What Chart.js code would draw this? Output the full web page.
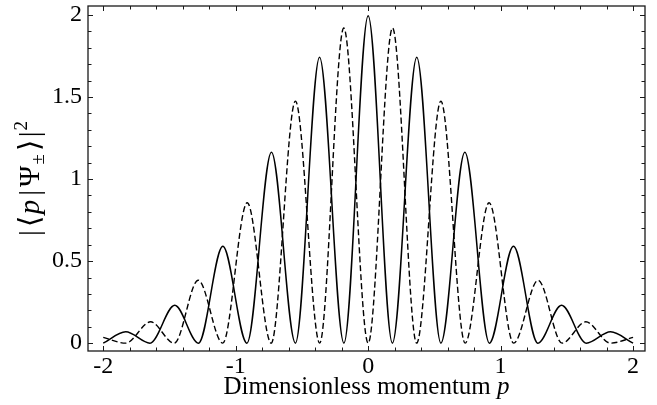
<!DOCTYPE html>
<html>
<head>
<meta charset="utf-8">
<script src="https://cdn.jsdelivr.net/npm/chart.js@4.4.0/dist/chart.umd.min.js"></script>
<style>
html, body { margin: 0; padding: 0; background: #fff; }
#wrap { width: 657px; height: 405px; }
</style>
</head>
<body>
<div id="wrap"><canvas id="c" width="657" height="405"></canvas></div>
<script>
// maxima and zeros (p, value)
const solidP = [-2.0, -1.83, -1.647, -1.46, -1.281, -1.097, -0.915, -0.73, -0.549, -0.367, -0.183, 0,
                0.183, 0.367, 0.549, 0.73, 0.915, 1.097, 1.281, 1.46, 1.647, 1.83, 2.0];
const solidV = [0, 0.069, 0, 0.231, 0, 0.59, 0, 1.164, 0, 1.743, 0, 1.996,
                0, 1.743, 0, 1.164, 0, 0.59, 0, 0.231, 0, 0.069, 0];
const dashedP = [-2.0, -1.83, -1.643, -1.464, -1.283, -1.098, -0.913, -0.732, -0.549, -0.366, -0.184, 0,
                 0.184, 0.366, 0.549, 0.732, 0.913, 1.098, 1.283, 1.464, 1.643, 1.83, 2.0];
const dashedV = [0.035, 0, 0.13, 0, 0.383, 0, 0.856, 0, 1.475, 0, 1.921, 0,
                 1.921, 0, 1.475, 0, 0.856, 0, 0.383, 0, 0.13, 0, 0.035];
const xTickLabels = [-2, -1, 0, 1, 2];
const yTickLabels = [0, 0.5, 1, 1.5, 2];

const SERIF = "'Liberation Serif', 'Times New Roman', serif";

const isLabel = (list, v) => list.some(t => Math.abs(t - v) < 1e-6);

// draw a row of text pieces (mixed fonts) centred on x=0 at baseline y=0
function drawRuns(ctx, runs) {
    let total = 0;
    runs.forEach(r => { ctx.font = r.font; r.w = ctx.measureText(r.t).width; total += r.w + (r.gap || 0); });
    let x = -total / 2;
    ctx.textAlign = 'left';
    ctx.textBaseline = 'alphabetic';
    runs.forEach(r => {
        ctx.font = r.font;
        ctx.fillText(r.t, x, r.dy || 0);
        x += r.w + (r.gap || 0);
    });
}

const framePlugin = {
    id: 'frame',
    afterDraw(chart) {
        const { ctx, chartArea: a, scales: { x, y } } = chart;
        ctx.save();
        ctx.strokeStyle = '#1a1a1a';
        ctx.lineWidth = 1;
        ctx.beginPath();
        x.ticks.forEach(t => {
            const px = Math.round(x.getPixelForValue(t.value)) + 0.5;
            const len = isLabel(xTickLabels, t.value) ? 5 : 3.5;
            ctx.moveTo(px, a.bottom); ctx.lineTo(px, a.bottom - len);
            ctx.moveTo(px, a.top); ctx.lineTo(px, a.top + len);
        });
        y.ticks.forEach(t => {
            const py = Math.round(y.getPixelForValue(t.value)) + 0.5;
            const len = isLabel(yTickLabels, t.value) ? 5 : 3.5;
            ctx.moveTo(a.left, py); ctx.lineTo(a.left + len, py);
            ctx.moveTo(a.right, py); ctx.lineTo(a.right - len, py);
        });
        ctx.stroke();
        ctx.lineWidth = 1.3;
        ctx.strokeRect(a.left, a.top, a.right - a.left, a.bottom - a.top);

        ctx.fillStyle = '#000';
        // x title
        ctx.save();
        ctx.translate((a.left + a.right) / 2, 394);
        drawRuns(ctx, [
            { t: 'Dimensionless momentum ', font: '25px ' + SERIF },
            { t: 'p', font: 'italic 25px ' + SERIF }
        ]);
        ctx.restore();
        // y title
        ctx.save();
        ctx.translate(39, (a.top + a.bottom) / 2);
        ctx.rotate(-Math.PI / 2);
        drawRuns(ctx, [
            { t: '|', font: '29px ' + SERIF, gap: 3 },
            { t: '\u27E8', font: '29px ' + SERIF, gap: 2 },
            { t: 'p', font: 'italic 29px ' + SERIF, gap: 4 },
            { t: '|', font: '29px ' + SERIF, gap: 3 },
            { t: '\u03A8', font: '29px ' + SERIF, gap: 1 },
            { t: '\u00B1', font: '19px ' + SERIF, dy: 5, gap: 3 },
            { t: '\u27E9', font: '29px ' + SERIF, gap: 3 },
            { t: '|', font: '29px ' + SERIF, gap: 1 },
            { t: '2', font: '19px ' + SERIF, dy: -12 }
        ]);
        ctx.restore();
        ctx.restore();
    }
};

new Chart(document.getElementById('c'), {
    type: 'line',
    data: {
        datasets: [{
            data: solidP.map((p, i) => ({ x: p, y: solidV[i] })),
            borderColor: '#000',
            borderWidth: 1.5,
            pointRadius: 0,
            cubicInterpolationMode: 'monotone',
            fill: false
        }, {
            data: dashedP.map((p, i) => ({ x: p, y: dashedV[i] })),
            borderColor: '#000',
            borderWidth: 1.4,
            borderDash: [6, 3],
            pointRadius: 0,
            cubicInterpolationMode: 'monotone',
            fill: false
        }]
    },
    options: {
        responsive: false,
        animation: false,
        devicePixelRatio: 1,
        layout: { padding: { left: 0, right: 12, top: 6, bottom: 0 } },
        plugins: { legend: { display: false }, tooltip: { enabled: false } },
        scales: {
            x: {
                type: 'linear',
                min: -2.115,
                max: 2.09,
                grid: { display: false, drawTicks: false },
                border: { display: false },
                ticks: {
                    stepSize: 0.2,
                    includeBounds: false,
                    autoSkip: false,
                    maxRotation: 0,
                    padding: 1,
                    color: '#000',
                    font: { family: SERIF, size: 24 },
                    callback: v => isLabel(xTickLabels, v) ? String(Math.round(v)) : ''
                },
                afterFit(scale) {
                    scale.height = 54;
                    scale.paddingLeft = 0;
                    scale.paddingRight = 0;
                }
            },
            y: {
                min: -0.048,
                max: 2.055,
                grid: { display: false, drawTicks: false },
                border: { display: false },
                ticks: {
                    stepSize: 0.1,
                    includeBounds: false,
                    autoSkip: false,
                    padding: 6,
                    color: '#000',
                    font: { family: SERIF, size: 24 },
                    callback: v => isLabel(yTickLabels, v) ? String(Math.round(v * 2) / 2) : ''
                },
                afterFit(scale) {
                    scale.width = 88;
                    scale.paddingTop = 0;
                    scale.paddingBottom = 0;
                }
            }
        }
    },
    plugins: [framePlugin]
});
</script>
</body>
</html>
